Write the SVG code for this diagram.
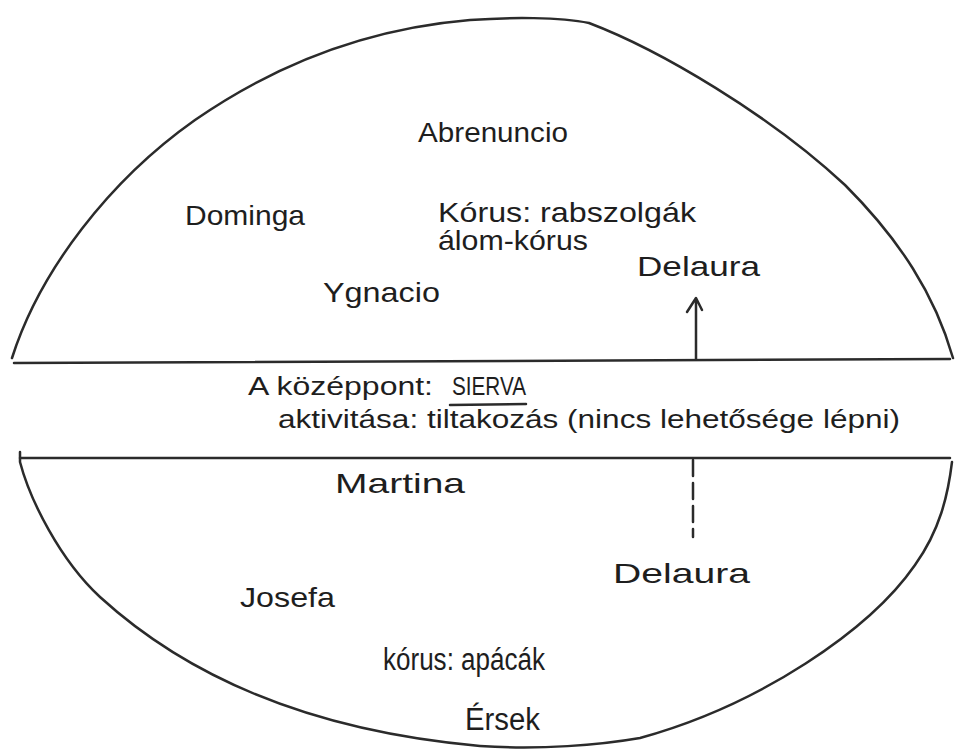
<svg xmlns="http://www.w3.org/2000/svg" width="957" height="749" viewBox="0 0 957 749">
<style>
.ln{fill:none;stroke:#2b2b2b;stroke-width:2.5;stroke-linecap:round;stroke-linejoin:round}
.t{font-family:"Liberation Sans","DejaVu Sans",sans-serif;font-size:28px;fill:#1e1e1e}
.s{font-size:25px}
.b{font-size:31px}
</style>
<rect width="957" height="749" fill="#ffffff"/>
<g id="outline">
<path class="ln" d="M12,358 C40,270 110,180 195,120 C260,75 350,30 470,20 C510,17 560,17 589,23 C660,50 770,115 845,185 C900,240 935,295 953,358"/>
<path class="ln" d="M14,363 L950,359"/>
<path class="ln" d="M20,458 L950,458"/>
<path class="ln" d="M20,452 L20,462 C30,500 60,560 100,597 C180,670 300,730 480,746 C540,750 600,745 640,738 C760,705 870,630 915,565 C940,530 948,495 952,462"/>
</g>
<g id="connectors">
<path class="ln" d="M696,359 L696,299 M687,312 L696,298 L702,310"/>
<path class="ln" d="M693,460 L693,537" stroke-dasharray="16,7"/>
</g>
<g id="abrenuncio"><text class="t" x="418" y="142" textLength="150" lengthAdjust="spacingAndGlyphs">Abrenuncio</text></g>
<g id="dominga"><text class="t" x="185" y="225" textLength="120" lengthAdjust="spacingAndGlyphs">Dominga</text></g>
<g id="korus-rabszolgak">
<text class="t" x="438" y="222" textLength="258" lengthAdjust="spacingAndGlyphs">Kórus: rabszolgák</text>
<text class="t" x="438" y="250" textLength="150" lengthAdjust="spacingAndGlyphs">álom-kórus</text>
</g>
<g id="delaura-top"><text class="t" x="637" y="276" textLength="123" lengthAdjust="spacingAndGlyphs">Delaura</text></g>
<g id="ygnacio"><text class="t" x="323" y="302" textLength="117" lengthAdjust="spacingAndGlyphs">Ygnacio</text></g>
<g id="sierva">
<text class="t s" x="248" y="395" textLength="185" lengthAdjust="spacingAndGlyphs">A  középpont:</text>
<text class="t s" x="452" y="395" textLength="74" lengthAdjust="spacingAndGlyphs">SIERVA</text>
<path class="ln" d="M450,405 L526,404"/>
<text class="t s" x="278" y="428" textLength="622" lengthAdjust="spacingAndGlyphs">aktivitása: tiltakozás (nincs lehetősége lépni)</text>
</g>
<g id="martina"><text class="t" x="335" y="493" textLength="130" lengthAdjust="spacingAndGlyphs">Martina</text></g>
<g id="delaura-bottom"><text class="t" x="613" y="583" textLength="137" lengthAdjust="spacingAndGlyphs">Delaura</text></g>
<g id="josefa"><text class="t" x="240" y="607" textLength="95" lengthAdjust="spacingAndGlyphs">Josefa</text></g>
<g id="korus-apacak"><text class="t b" x="383" y="670" textLength="162" lengthAdjust="spacingAndGlyphs">kórus: apácák</text></g>
<g id="ersek"><text class="t b" x="465" y="730" textLength="75" lengthAdjust="spacingAndGlyphs">Érsek</text></g>
</svg>
